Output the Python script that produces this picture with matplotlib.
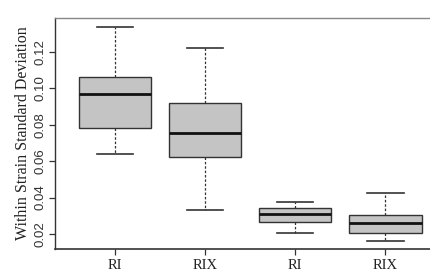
import matplotlib.pyplot as plt

# group labels and box statistics
labels = ['RI', 'RIX', 'RI', 'RIX']
whislo = [0.0637, 0.0330, 0.0205, 0.0160]
q1 = [0.0783, 0.0624, 0.0268, 0.0205]
med = [0.0970, 0.0752, 0.0308, 0.0262]
q3 = [0.1060, 0.0920, 0.0341, 0.0303]
whishi = [0.1334, 0.1222, 0.0377, 0.0425]

stats = []
for i in range(len(labels)):
    stats.append({'label': labels[i], 'whislo': whislo[i], 'q1': q1[i], 'med': med[i],
                  'q3': q3[i], 'whishi': whishi[i], 'fliers': []})

fig = plt.figure(figsize=(4.3, 2.78), dpi=100)
ax = fig.add_axes([0.128, 0.1043, 0.907, 0.831])

ax.bxp(stats, positions=[1, 2, 3, 4], widths=0.8, patch_artist=True, capwidths=0.4,
       boxprops=dict(facecolor='#c4c4c4', edgecolor='#333333', linewidth=1.0),
       medianprops=dict(color='#111111', linewidth=2.0),
       whiskerprops=dict(color='#333333', linestyle=(0, (2, 1.5)), linewidth=0.9),
       capprops=dict(color='#333333', linewidth=1.2),
       showfliers=False)

ax.set_xlim(0.34, 4.66)
ax.set_ylim(0.0118, 0.1385)
ax.set_yticks([0.02, 0.04, 0.06, 0.08, 0.10, 0.12])
ax.set_yticklabels(['0.02', '0.04', '0.06', '0.08', '0.10', '0.12'],
                   rotation=90, va='center', fontsize=9.5, family='Liberation Sans', color='#333333')
ax.set_xticks([1, 2, 3, 4])
ax.set_xticklabels(labels, fontsize=10.5, family='Liberation Serif', color='#222222')
ax.tick_params(axis='both', direction='out', length=4, width=0.9, color='#333333')
ax.tick_params(axis='y', pad=2)

ax.set_ylabel('Within Strain Standard Deviation', fontsize=11.5, family='Liberation Serif',
              color='#222222', labelpad=3)

ax.spines['left'].set_color('#333333')
ax.spines['bottom'].set_color('#333333')
ax.spines['left'].set_linewidth(1.0)
ax.spines['bottom'].set_linewidth(1.2)
ax.spines['top'].set_color('#888888')
ax.spines['top'].set_linewidth(1.0)
ax.spines['right'].set_visible(False)

plt.savefig('out.png', dpi=100)
